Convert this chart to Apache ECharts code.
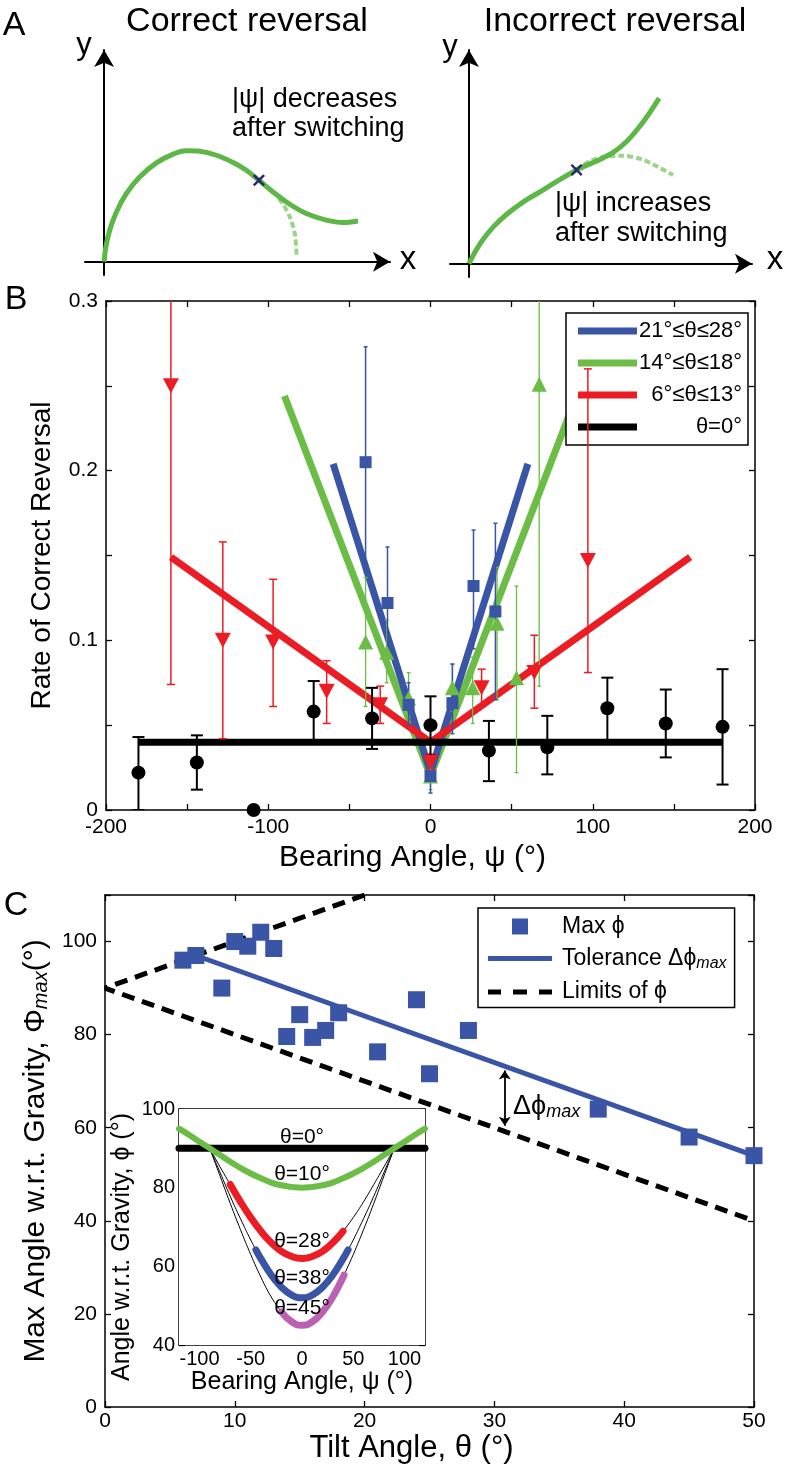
<!DOCTYPE html>
<html><head><meta charset="utf-8">
<script src="https://cdn.jsdelivr.net/npm/echarts@6/dist/echarts.min.js"></script>
<style>html,body{margin:0;padding:0;background:#fff}#c{width:786px;height:1471px}</style>
</head><body><div id="c"></div>
<script>
const FONT = "'Liberation Sans', Arial, Helvetica, sans-serif";
const BLUE = '#3a55a6', GREEN = '#6bbd46', RED = '#ec1c24', BLACK = '#000', MAG = '#bb60b2';

// ---------- Panel A (schematics) ----------
const aCorrectPath = [[0,0],[0.06,0.68],[0.19,1.44],[0.42,2.27],[0.76,3.11],[1.21,3.86],[1.78,4.5],[2.35,4.9],[2.8,5.05],[3.26,5.03],[3.82,4.85],[4.39,4.52],[4.84,4.17],[5.27,3.71],[5.75,3.18],[6.32,2.62],[6.88,2.2],[7.56,1.9],[8.13,1.79],[8.64,1.86]];
const aCorrectAlt = [[5.27,3.71],[5.75,3.18],[6.1,2.6],[6.35,1.95],[6.5,1.2],[6.55,0.32]];
const aCorrectSwitch = [[5.27,3.71]];
const aIncorrectPath = [[0,0],[0.21,0.53],[0.49,1.10],[0.84,1.66],[1.29,2.22],[1.87,2.79],[2.44,3.24],[3.01,3.70],[3.70,4.23],[4.39,4.63],[4.96,5.02],[5.42,5.51],[5.82,6.11],[6.16,6.71],[6.54,7.47]];
const aIncorrectAlt = [[3.70,4.23],[4.16,4.63],[4.62,4.81],[5.30,4.87],[5.99,4.68],[7.02,4.0]];
const aIncorrectSwitch = [[3.70,4.23]];

// ---------- Panel B ----------
const bBlackX  = [-180,-144,-109,-72,-36,0,36,72,109,145,180];
const bBlackY  = [0.022,0.028,0.0,0.058,0.054,0.050,0.035,0.037,0.060,0.051,0.049];
const bBlackLo = [0.0,0.012,null,0.040,0.036,0.032,0.017,0.021,0.041,0.031,0.015];
const bBlackHi = [0.043,0.044,null,0.076,0.072,0.067,0.0525,0.0555,0.078,0.071,0.083];

const bRedX  = [-160,-128,-97,-64,-31,0,31.5,64,97];
const bRedY  = [0.250,0.100,0.099,0.070,0.062,0.028,0.072,0.081,0.147];
const bRedLo = [0.074,0.042,0.061,0.051,0.051,0.024,0.061,0.060,0.081];
const bRedHi = [0.32,0.158,0.136,0.088,0.073,0.033,0.083,0.103,0.26];

const bBlueX  = [-40,-26.5,-13.5,0,13.5,26.5,40];
const bBlueY  = [0.205,0.122,0.062,0.020,0.063,0.132,0.117];
const bBlueLo = [0.14,0.09,0.05,0.010,0.045,0.095,0.065];
const bBlueHi = [0.273,0.155,0.075,0.030,0.086,0.165,0.169];

const bGreenX  = [-40,-27,-13.5,0,13.5,26,41,53,67];
const bGreenY  = [0.099,0.093,0.066,0.020,0.072,0.072,0.110,0.078,0.251];
const bGreenLo = [0.061,0.075,0.055,0.012,0.058,0.051,0.065,0.022,0.073];
const bGreenHi = [0.137,0.112,0.081,0.028,0.086,0.090,0.143,0.132,0.32];

const bFitBlue  = [[-60,0.204],[0,0.022],[60,0.204]];
const bFitGreen = [[-90,0.244],[0,0.020],[90,0.244]];
const bFitRed   = [[-160,0.149],[0,0.040],[160,0.149]];
const bFitBlack = [[-180,0.040],[180,0.040]];
const bLegendNames = ['21°≤θ≤28°','14°≤θ≤18°','6°≤θ≤13°','θ=0°'];

// ---------- Panel C ----------
const cTheta = [6,7,9,10,11,12,13,14,15,16,17,18,21,24,25,28,38,45,50];
const cPhiMax = [96,97,90,100,99,102,98.5,79.6,84.3,79.4,80.9,84.7,76.3,87.5,71.6,80.9,64,58,54];
const cTolerance = [[7,97],[50,54]];
const cLimits = [[20,110],[0,90],[50,40]];
const cDeltaArrow = [[30.8,60.4],[30.8,72.3]];
const cLegendNames = ['Max ϕ','Tolerance Δϕmax','Limits of ϕ'];

// ---------- Inset ----------
const inTheta0  = [[-120,90],[120,90]];
const inTheta10 = [[-120,95.0],[-110,93.4],[-100,91.7],[-90,90],[-80,88.3],[-70,86.6],[-60,85.0],[-50,83.6],[-40,82.4],[-30,81.3],[-20,80.6],[-10,80.2],[0,80],[10,80.2],[20,80.6],[30,81.3],[40,82.4],[50,83.6],[60,85.0],[70,86.6],[80,88.3],[90,90],[100,91.7],[110,93.4],[120,95.0]];
const inTheta28 = [[-70,80.8],[-60,76.4],[-50,72.4],[-40,68.9],[-30,66.0],[-20,63.8],[-10,62.5],[0,62.0],[10,62.5],[20,63.8],[30,66.0],[40,68.9]];
const inTheta38 = [[-45,64.2],[-40,61.9],[-30,57.8],[-20,54.7],[-10,52.7],[0,52.0],[10,52.7],[20,54.7],[30,57.8],[40,61.9],[45,64.2]];
const inTheta45 = [[-20,48.4],[-10,45.9],[0,45.0],[10,45.9],[20,48.4],[30,52.2],[40,57.2],[41,57.8]];
const inThin = [
  [[-90,90],[-80,85.3],[-70,80.8]],
  [[40,68.9],[50,72.4],[60,76.4],[70,80.8],[80,85.3],[90,90]],
  [[-90,90],[-80,83.9],[-70,77.8],[-60,72.1],[-50,66.7],[-45,64.2]],
  [[45,64.2],[50,66.7],[60,72.1],[70,77.8],[80,83.9],[90,90]],
  [[-90,90],[-80,83.0],[-70,76.0],[-60,69.3],[-50,63.0],[-40,57.2],[-30,52.2],[-20,48.4]],
  [[41,57.8],[50,63.0],[60,69.3],[70,76.0],[80,83.0],[90,90]]
];
const inTicksX = [-100,-50,0,50,100];

// ---------- helpers ----------
const zip = (xs, ys) => xs.map((x, i) => [x, ys[i]]);
const zipErr = (xs, lo, hi) => xs.map((x, i) => [x, lo[i], hi[i]]).filter(r => r[1] !== null);
function errBar(color, lw, cap) {
  return function (params, api) {
    const x = api.value(0), lo = api.value(1), hi = api.value(2);
    const a = api.coord([x, lo]), b = api.coord([x, hi]);
    const st = { stroke: color, lineWidth: lw };
    return { type: 'group', children: [
      { type: 'line', shape: { x1: a[0], y1: a[1], x2: b[0], y2: b[1] }, style: st },
      { type: 'line', shape: { x1: a[0] - cap, y1: a[1], x2: a[0] + cap, y2: a[1] }, style: st },
      { type: 'line', shape: { x1: b[0] - cap, y1: b[1], x2: b[0] + cap, y2: b[1] }, style: st }
    ]};
  };
}
const txt = (fs, extra) => Object.assign({ fontFamily: FONT, fontSize: fs, color: '#000' }, extra || {});

function schemAxes(gi) {
  return {
    x: { type: 'value', gridIndex: gi, min: -0.65, max: 9.73, axisLine: { onZero: true, symbol: ['none', 'arrow'], symbolSize: [15, 17], lineStyle: { color: '#000', width: 2 } }, axisTick: { show: false }, axisLabel: { show: false }, splitLine: { show: false } },
    y: { type: 'value', gridIndex: gi, min: -0.6, max: 9.64, axisLine: { onZero: true, symbol: ['none', 'arrow'], symbolSize: [15, 17], lineStyle: { color: '#000', width: 2 } }, axisTick: { show: false }, axisLabel: { show: false }, splitLine: { show: false } }
  };
}
const sa0 = schemAxes(0), sa1 = schemAxes(1);

function boxAxis(dim, gi, pos, cfg, labelCfg) {
  const ax = Object.assign({
    type: 'value', gridIndex: gi, position: pos,
    axisLine: { onZero: false, lineStyle: { color: '#000', width: 1.5 } },
    axisTick: { inside: true, length: 6, lineStyle: { color: '#000', width: 1.3 } },
    splitLine: { show: false },
    axisLabel: { show: false }
  }, cfg);
  if (labelCfg) ax.axisLabel = Object.assign({ show: true, fontFamily: FONT, fontSize: 21, color: '#000' }, labelCfg);
  return ax;
}
const bxLab = v => (v % 100 === 0 ? String(v) : '');
const byLab = v => (Math.abs(v * 10 - Math.round(v * 10)) < 1e-6 ? String(Math.round(v * 10) / 10) : '');
const by20 = v => (v % 20 === 0 ? String(v) : '');

const xAxes = [
  sa0.x, sa1.x,
  Object.assign(boxAxis('x', 2, 'bottom', { min: -200, max: 200, interval: 50 }, { formatter: bxLab, margin: 7 }),
    { name: 'Bearing Angle, ψ (°)', nameLocation: 'middle', nameGap: 33, nameTextStyle: txt(30, { padding: [0, 36, 0, 0] }) }),
  boxAxis('x', 2, 'top', { min: -200, max: 200, interval: 50 }),
  Object.assign(boxAxis('x', 3, 'bottom', { min: 0, max: 50, interval: 10 }, { margin: 4 }),
    { name: 'Tilt Angle, θ (°)', nameLocation: 'middle', nameGap: 26, nameTextStyle: txt(31, { padding: [0, 36, 0, 0] }) }),
  boxAxis('x', 3, 'top', { min: 0, max: 50, interval: 10 }),
  Object.assign(boxAxis('x', 4, 'bottom', { min: -120, max: 120 }, { fontSize: 20, margin: 4, customValues: inTicksX }),
    { name: 'Bearing Angle, ψ (°)', nameLocation: 'middle', nameGap: 25, nameTextStyle: txt(25) }),
  boxAxis('x', 4, 'top', { min: -120, max: 120 })
];
xAxes[6].axisTick = Object.assign({}, xAxes[6].axisTick, { customValues: inTicksX });
xAxes[7].axisTick = Object.assign({}, xAxes[7].axisTick, { customValues: inTicksX });

const yAxes = [
  sa0.y, sa1.y,
  Object.assign(boxAxis('y', 2, 'left', { min: 0, max: 0.3, interval: 0.05 }, { formatter: byLab, margin: 8 }),
    { name: 'Rate of Correct Reversal', nameLocation: 'middle', nameGap: 50, nameTextStyle: txt(28) }),
  boxAxis('y', 2, 'right', { min: 0, max: 0.3, interval: 0.05 }),
  Object.assign(boxAxis('y', 3, 'left', { min: 0, max: 110, interval: 20 }, { formatter: by20, margin: 8 }),
    { name: 'Max Angle w.r.t. Gravity, Φ{s|max}(°)', nameLocation: 'middle', nameGap: 50,
      nameTextStyle: txt(30, { rich: { s: { fontFamily: FONT, fontSize: 20, fontStyle: 'italic', verticalAlign: 'bottom', lineHeight: 24 } } }) }),
  boxAxis('y', 3, 'right', { min: 0, max: 110, interval: 20 }),
  Object.assign(boxAxis('y', 4, 'left', { min: 40, max: 100, interval: 10 }, { formatter: by20, fontSize: 20, margin: 4 }),
    { name: 'Angle w.r.t. Gravity, ϕ (°)', nameLocation: 'middle', nameGap: 44, nameTextStyle: txt(25, { padding: [0, 40, 0, 0] }) }),
  boxAxis('y', 4, 'right', { min: 40, max: 100, interval: 10 })
];

const series = [];
// Panel A
series.push({ type: 'line', xAxisIndex: 0, yAxisIndex: 0, data: aCorrectAlt, smooth: 0.3, symbol: 'none', lineStyle: { color: '#9dd48a', width: 4, type: [6, 3] }, z: 2 });
series.push({ type: 'line', xAxisIndex: 0, yAxisIndex: 0, data: aCorrectPath, smooth: 0.3, symbol: 'none', lineStyle: { color: '#5cb746', width: 5 }, z: 3 });
series.push({ type: 'line', xAxisIndex: 1, yAxisIndex: 1, data: aIncorrectAlt, smooth: 0.3, symbol: 'none', lineStyle: { color: '#9dd48a', width: 4, type: [6, 3] }, z: 2 });
series.push({ type: 'line', xAxisIndex: 1, yAxisIndex: 1, data: aIncorrectPath, smooth: 0.3, symbol: 'none', lineStyle: { color: '#5cb746', width: 5 }, z: 3 });
const crossSym = 'path://M0,1.4L1.4,0L5,3.6L8.6,0L10,1.4L6.4,5L10,8.6L8.6,10L5,6.4L1.4,10L0,8.6L3.6,5Z';
series.push({ type: 'scatter', xAxisIndex: 0, yAxisIndex: 0, data: aCorrectSwitch, symbol: crossSym, symbolSize: 12, itemStyle: { color: '#26266e', opacity: 1 }, z: 5 });
series.push({ type: 'scatter', xAxisIndex: 1, yAxisIndex: 1, data: aIncorrectSwitch, symbol: crossSym, symbolSize: 12, itemStyle: { color: '#26266e', opacity: 1 }, z: 5 });

// Panel B fit lines
const fitLine = (name, data, color) => ({ name, type: 'line', xAxisIndex: 2, yAxisIndex: 2, data, symbol: 'none', color, lineStyle: { color, width: 7 }, z: 3 });
series.push(fitLine(bLegendNames[1], bFitGreen, GREEN));
series.push(fitLine(bLegendNames[0], bFitBlue, BLUE));
series.push(fitLine(bLegendNames[2], bFitRed, RED));
series.push(fitLine(bLegendNames[3], bFitBlack, BLACK));
// Panel B error bars
const errS = (data, color, lw, cap) => ({ type: 'custom', xAxisIndex: 2, yAxisIndex: 2, clip: true, data, renderItem: errBar(color, lw, cap), encode: { x: 0, y: [1, 2] }, z: 4 });
series.push(errS(zipErr(bRedX, bRedLo, bRedHi), RED, 1.5, 4));
series.push(errS(zipErr(bGreenX, bGreenLo, bGreenHi), GREEN, 1.3, 2));
series.push(errS(zipErr(bBlueX, bBlueLo, bBlueHi), BLUE, 1.5, 2));
series.push(errS(zipErr(bBlackX, bBlackLo, bBlackHi), BLACK, 2, 6));
// Panel B markers
series.push({ type: 'scatter', xAxisIndex: 2, yAxisIndex: 2, data: zip(bRedX, bRedY), symbol: 'triangle', symbolRotate: 180, symbolSize: [16, 15], itemStyle: { color: RED, opacity: 1 }, z: 5, clip: false });
series.push({ type: 'scatter', xAxisIndex: 2, yAxisIndex: 2, data: zip(bGreenX, bGreenY), symbol: 'triangle', symbolSize: [15, 15], itemStyle: { color: GREEN, opacity: 1 }, z: 5 });
series.push({ type: 'scatter', xAxisIndex: 2, yAxisIndex: 2, data: zip(bBlueX, bBlueY), symbol: 'rect', symbolSize: 12, itemStyle: { color: BLUE, opacity: 1 }, z: 5 });
series.push({ type: 'scatter', xAxisIndex: 2, yAxisIndex: 2, data: zip(bBlackX, bBlackY), symbol: 'circle', symbolSize: 14, itemStyle: { color: BLACK, opacity: 1 }, z: 6, clip: false });

// Panel C
series.push({ name: cLegendNames[2], type: 'line', xAxisIndex: 4, yAxisIndex: 4, data: cLimits, symbol: 'none', color: BLACK, lineStyle: { color: BLACK, width: 5, type: [13, 8] }, z: 3 });
series.push({ name: cLegendNames[1], type: 'line', xAxisIndex: 4, yAxisIndex: 4, data: cTolerance, symbol: 'none', color: BLUE, lineStyle: { color: BLUE, width: 5 }, z: 4 });
series.push({ name: cLegendNames[0], type: 'scatter', xAxisIndex: 4, yAxisIndex: 4, data: zip(cTheta, cPhiMax), symbol: 'rect', symbolSize: 17, color: BLUE, itemStyle: { color: BLUE, opacity: 1 }, z: 5, clip: false });
series.push({ type: 'lines', coordinateSystem: 'cartesian2d', xAxisIndex: 4, yAxisIndex: 4, data: [{ coords: cDeltaArrow }], symbol: ['arrow', 'arrow'], symbolSize: 9, lineStyle: { color: BLACK, width: 1.8, opacity: 1 }, z: 6 });

// Inset
const inLine = (data, color, w, z) => ({ type: 'line', xAxisIndex: 6, yAxisIndex: 6, data, smooth: true, symbol: 'none', lineStyle: { color, width: w, cap: 'round' }, z: z || 3 });
inThin.forEach(d => series.push(inLine(d, BLACK, 1, 2)));
series.push(inLine(inTheta0, BLACK, 7, 3));
series.push(inLine(inTheta10, GREEN, 6, 4));
series.push(inLine(inTheta28, RED, 7, 4));
series.push(inLine(inTheta38, BLUE, 7, 4));
series.push(inLine(inTheta45, MAG, 7, 4));

const gtext = (x, y, text, fs, align, extra) => ({ type: 'text', x, y, z: 100, style: Object.assign({ text, fontFamily: FONT, fontSize: fs, fill: '#000', align: align || 'center', verticalAlign: 'middle' }, extra || {}) });

const option = {
  animation: false,
  backgroundColor: '#fff',
  grid: [
    { left: 85, top: 50, width: 305, height: 225 },
    { left: 450, top: 50, width: 302, height: 227 },
    { left: 106, top: 301, width: 649, height: 509 },
    { left: 105, top: 895, width: 649, height: 512 },
    { left: 179, top: 1109, width: 246, height: 236, show: true, backgroundColor: '#fff', borderWidth: 0, z: 2 }
  ],
  xAxis: xAxes,
  yAxis: yAxes,
  legend: [
    {
      data: bLegendNames.map(n => ({ name: n, icon: 'rect' })),
      orient: 'vertical', left: 566, top: 313, itemWidth: 59, itemHeight: 7, itemGap: 10,
      padding: [7, 6, 7, 12], backgroundColor: '#fff', borderColor: '#000', borderWidth: 1.5, borderRadius: 0,
      selectedMode: false,
      formatter: n => '{a|' + n + '}',
      textStyle: { rich: { a: { width: 100, align: 'right', fontFamily: FONT, fontSize: 22, lineHeight: 24, color: '#000' } } }
    },
    {
      data: [
        { name: cLegendNames[0], icon: 'path://M0,0H10V10H0Z' },
        { name: cLegendNames[1], icon: 'path://M0,0H64V5H0Z' },
        { name: cLegendNames[2], icon: 'path://M0,0H13V5H0Z M25,0H39V5H25Z M51,0H64V5H51Z' }
      ],
      orient: 'vertical', left: 478, top: 908, itemWidth: 64, itemHeight: 16, itemGap: 9,
      padding: [7, 8, 4, 10], backgroundColor: '#fff', borderColor: '#000', borderWidth: 1.5, borderRadius: 0,
      selectedMode: false,
      formatter: n => (n === 'Tolerance Δϕmax' ? '{t|Tolerance Δϕ}{s|max}' : '{t|' + n + '}'),
      textStyle: { rich: {
        t: { fontFamily: FONT, fontSize: 23, lineHeight: 26, color: '#000', padding: [0, 0, 0, 5] },
        s: { fontFamily: FONT, fontSize: 16, fontStyle: 'italic', lineHeight: 18, verticalAlign: 'bottom', color: '#000' }
      } }
    }
  ],
  graphic: [
    gtext(14, 26, 'A', 34),
    gtext(16, 300, 'B', 34),
    gtext(16, 906, 'C', 34),
    gtext(247, 22, 'Correct reversal', 34),
    gtext(615, 22, 'Incorrect reversal', 34),
    gtext(84, 45, 'y', 31),
    gtext(450, 47, 'y', 31),
    gtext(408, 260, 'x', 33),
    gtext(775, 260, 'x', 33),
    gtext(232, 100, '|ψ| decreases', 27, 'left'),
    gtext(232, 129, 'after switching', 27, 'left'),
    gtext(555, 204, '|ψ| increases', 27, 'left'),
    gtext(555, 234, 'after switching', 27, 'left'),
    gtext(513, 1107, '{a|Δϕ}{b|max}', 26, 'left', { rich: { a: { fontFamily: FONT, fontSize: 27, fill: '#000', lineHeight: 28 }, b: { fontFamily: FONT, fontSize: 18, fontStyle: 'italic', fill: '#000', lineHeight: 20, verticalAlign: 'bottom' } } }),
    gtext(302, 1137, 'θ=0°', 21),
    gtext(302, 1174, 'θ=10°', 21),
    gtext(302, 1241, 'θ=28°', 21),
    gtext(302, 1278, 'θ=38°', 21),
    gtext(302, 1308, 'θ=45°', 21)
  ],
  series
};
const chart = echarts.init(document.getElementById('c'), null, { renderer: 'canvas' });
chart.setOption(option);
</script></body></html>
